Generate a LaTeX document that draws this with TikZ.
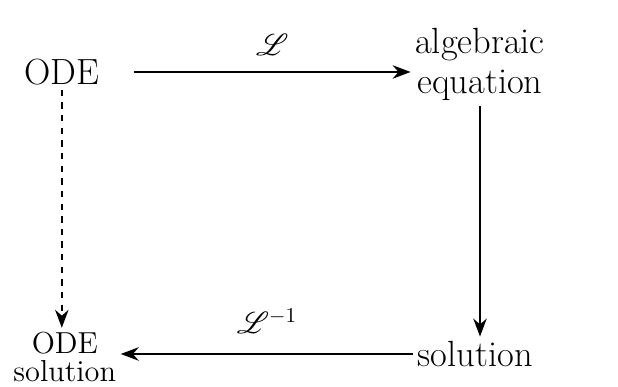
\documentclass[tikz,border=0pt]{standalone}
\usepackage{amsmath,amssymb}
\usepackage{mathrsfs}
\usetikzlibrary{positioning,arrows.meta}

\begin{document}
\begin{tikzpicture}[
    term/.style={align=center, font=\LARGE, inner sep=2pt},
    map/.style={->, thick, >={Stealth[length=3mm]}},
    guess/.style={->, thick, dashed, >={Stealth[length=3mm]}},
    maplabel/.style={font=\Large}
]
\useasboundingbox (0,0) rectangle (10.3,6.45);

\node[term] (ode) at (1.03,5.25) {ODE};
\node[term] (alg) at (8.0,5.37) {algebraic\\[-3pt]equation};
\node[term] (sol) at (7.92,0.55) {solution};
\node[term, font=\Large] (odesol) at (1.08,0.5) {ODE\\[-5pt]solution};

\draw[map] (ode.east) ++(0.5,0) coordinate (a0) -- (a0 -| alg.west)
    node[midway, above=4pt, maplabel] {$\mathscr{L}$};
\draw[map] (alg.south) -- (alg.south |- sol.north);
\draw[map] (sol.west) -- (sol.west -| odesol.east)
    node[midway, above=6pt, maplabel] {$\mathscr{L}^{-1}$};
\draw[guess] (ode.south) -- (ode.south |- odesol.north);

\end{tikzpicture}
\end{document}
